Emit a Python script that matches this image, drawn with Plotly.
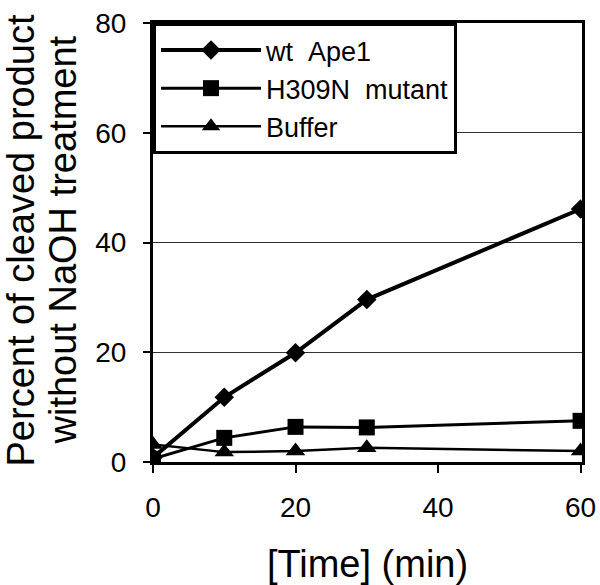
import plotly.graph_objects as go

time_min = [0, 10, 20, 30, 60]
wt_ape1 = [0.8, 11.8, 19.9, 29.6, 46.1]
h309n_mutant = [0.6, 4.4, 6.4, 6.3, 7.5]
buffer_ctrl = [3.2, 1.8, 2.0, 2.6, 2.0]

series_names = ["wt\u00a0\u00a0Ape1", "H309N\u00a0\u00a0mutant", "Buffer"]
x_ticks = [0, 20, 40, 60]
y_ticks = [0, 20, 40, 60, 80]
y_title_lines = ["Percent of cleaved product", "without NaOH treatment"]
x_title = "[Time] (min)"

FONT = "Liberation Sans, Arial, sans-serif"

fig = go.Figure()
fig.add_trace(go.Scatter(x=time_min, y=wt_ape1, name=series_names[0], mode="lines+markers",
                         line=dict(color="black", width=4),
                         marker=dict(symbol="diamond", size=15, color="black")))
fig.add_trace(go.Scatter(x=time_min, y=h309n_mutant, name=series_names[1], mode="lines+markers",
                         line=dict(color="black", width=3),
                         marker=dict(symbol="square", size=16, color="black")))
fig.add_trace(go.Scatter(x=time_min, y=buffer_ctrl, name=series_names[2], mode="lines+markers",
                         line=dict(color="black", width=2.5),
                         marker=dict(symbol="triangle-up", size=17, color="black")))

fig.update_layout(
    width=600, height=585,
    margin=dict(l=153, r=18, t=23, b=123, autoexpand=False),
    paper_bgcolor="white", plot_bgcolor="white",
    font=dict(family=FONT, color="black"),
    showlegend=True,
    legend=dict(x=0, y=1, xanchor="left", yanchor="top",
                bordercolor="black", borderwidth=3, bgcolor="white",
                font=dict(size=27, family=FONT, color="black"),
                itemwidth=100, tracegroupgap=0),
)
# two-line y title as separate rotated texts for tighter line spacing
for txt, shift in zip(y_title_lines, [-133, -91]):
    fig.add_annotation(text=txt, xref="paper", yref="paper", x=0, y=0.5,
                       xanchor="center", yanchor="middle", xshift=shift, yshift=2,
                       textangle=-90, showarrow=False,
                       font=dict(size=38, family=FONT, color="black"))

fig.update_xaxes(range=[0, 60.2], tickvals=x_ticks, ticks="outside", ticklen=8, tickwidth=1.5,
                 tickcolor="black", showline=True, linecolor="black", linewidth=3, mirror=True,
                 showgrid=False, zeroline=False, tickfont=dict(size=28),
                 ticklabelstandoff=10, ticklabeloverflow="allow", automargin=False,
                 title=dict(text=x_title, font=dict(size=38), standoff=37))
fig.update_yaxes(range=[0, 80], tickvals=y_ticks, ticks="outside", ticklen=7, tickwidth=1.5,
                 tickcolor="black", showline=True, linecolor="black", linewidth=3, mirror=True,
                 showgrid=True, gridcolor="#333333", gridwidth=1, zeroline=False,
                 tickfont=dict(size=28), ticklabelstandoff=11, ticklabeloverflow="allow",
                 automargin=False)

fig.write_html("out.html", config={"displayModeBar": False},
               post_script="document.body.style.margin='0';")
